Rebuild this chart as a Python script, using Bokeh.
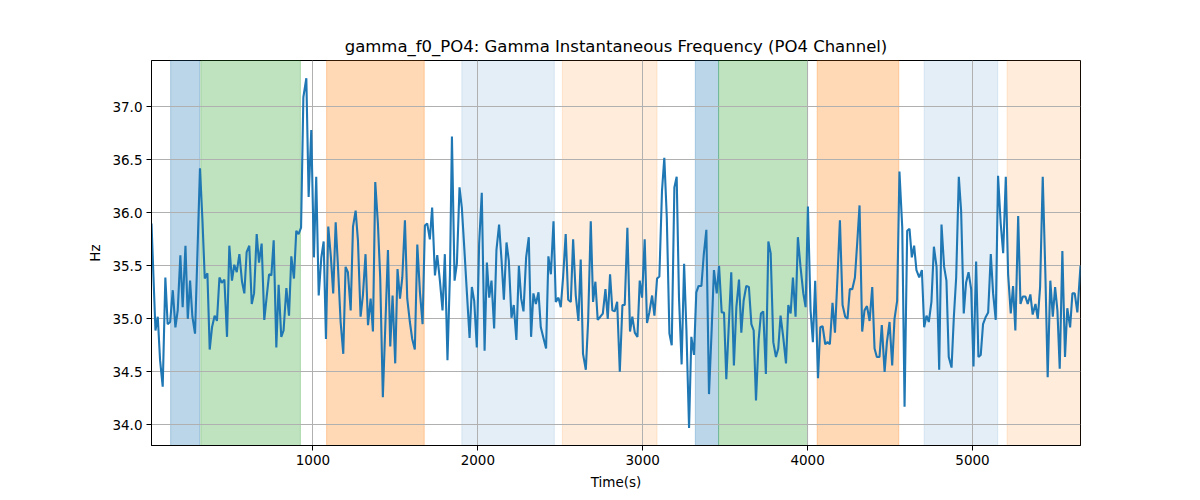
from bokeh.plotting import figure
from bokeh.models import Range1d, FixedTicker, PrintfTickFormatter, BoxAnnotation
from bokeh.embed import file_html
from bokeh.resources import INLINE

# instantaneous gamma frequency of channel PO4
time_s = [
    21, 45, 59, 73, 89, 105, 119, 134, 150, 166, 180, 196, 210, 227, 241, 255, 269, 285,
    315, 330, 344, 360, 374, 388, 404, 418, 433, 447, 463, 479, 493, 509, 523, 538, 554,
    570, 584, 598, 614, 629, 643, 659, 673, 689, 705,
    719, 734, 748, 762, 778, 792, 808, 822, 839, 855, 869, 885, 899, 913, 928, 942, 960,
    974, 990, 1006, 1020, 1035, 1051, 1065, 1079, 1093, 1109, 1123, 1138, 1152, 1168, 1184,
    1198, 1212, 1229, 1243, 1259, 1273, 1289, 1303, 1319, 1334, 1350, 1364, 1378, 1394, 1408,
    1424, 1455, 1469, 1483, 1499, 1513, 1528, 1542, 1558, 1572, 1588, 1602, 1618, 1633, 1649,
    1665, 1679, 1693, 1709, 1723, 1740, 1754, 1770, 1786, 1800, 1816, 1831, 1843, 1859, 1873,
    1889, 1903, 1919, 1934, 1950, 1964, 1978, 1994, 2008, 2024, 2041, 2055, 2069, 2083, 2099, 2113,
    2129, 2144, 2158, 2174, 2188, 2204, 2218, 2234, 2249, 2263, 2277, 2293, 2309, 2323, 2337,
    2352, 2368, 2382, 2398, 2414, 2428, 2443, 2459, 2473, 2489, 2503, 2517, 2533, 2548, 2564,
    2578, 2594, 2610, 2624, 2638, 2655, 2669, 2685, 2699, 2713, 2727, 2743, 2758, 2774, 2788,
    2802, 2816,
    2830, 2845, 2861, 2877, 2891, 2907, 2923, 2937, 2952, 2968, 2982, 2996, 3012, 3026, 3040,
    3057, 3071, 3087, 3101, 3117, 3131, 3146, 3162, 3176, 3192, 3206, 3220, 3236, 3251, 3265,
    3281, 3295, 3311, 3325, 3339, 3356, 3370, 3386, 3402, 3418, 3432, 3449, 3463, 3479, 3493, 3507,
    3537, 3553, 3568, 3584, 3598, 3612, 3628, 3644, 3659, 3673, 3687, 3703, 3717, 3731, 3747,
    3762, 3776, 3792, 3808, 3822, 3836, 3852, 3869, 3883, 3897, 3911, 3927, 3941, 3957, 3974,
    3988, 4002, 4018, 4032, 4046, 4063, 4077, 4091, 4107, 4121, 4135, 4151, 4166, 4180, 4196,
    4212, 4228,
    4242, 4256, 4271, 4287, 4301, 4315, 4331, 4345, 4360, 4376, 4392, 4406, 4420, 4436, 4450,
    4467, 4481, 4497, 4513, 4527, 4543, 4557, 4574, 4588, 4604, 4618, 4632, 4646, 4660, 4677,
    4693, 4707, 4721, 4735, 4751, 4766, 4782, 4798, 4812, 4828, 4842, 4856, 4873, 4887, 4901,
    4917, 4931,
    4947, 4961, 4976, 4992, 5006, 5022, 5036, 5050, 5064, 5081, 5095, 5111, 5125, 5141, 5155,
    5171, 5186, 5202, 5216, 5232, 5246, 5260, 5277, 5291, 5305, 5321, 5335, 5351, 5365, 5382,
    5396, 5410, 5426, 5442, 5456, 5472, 5487, 5501, 5515, 5529, 5545, 5561, 5575, 5592, 5606,
    5620, 5636, 5655,
]
freq_hz = [
    35.90, 34.89, 35.02, 34.61, 34.36, 35.39, 34.95, 34.97, 35.27, 34.92, 35.08, 35.60, 35.11,
    35.69, 35.00, 35.36, 35.02, 34.86,
    36.42, 35.93, 35.38, 35.43, 34.71, 34.92, 35.03, 34.98, 35.39, 35.34, 35.37, 34.83, 35.69,
    35.36, 35.51, 35.44, 35.61, 35.35, 35.24, 35.63, 35.69, 35.14, 35.24, 35.80, 35.53, 35.71, 34.99,
    35.20, 35.42, 35.41, 35.74, 34.73, 35.32, 34.83, 34.89, 35.29, 35.03, 35.59, 35.38, 35.83,
    35.80, 35.86, 37.09, 37.27, 36.15, 36.78, 35.58, 36.34, 35.22, 35.58, 35.73, 34.81, 35.87,
    35.58, 35.24, 35.91, 35.49, 34.97, 34.67, 35.49, 35.44, 35.08, 35.87, 36.02, 35.74, 35.02,
    35.22, 35.61, 34.94, 35.19, 34.88, 36.29, 35.90, 35.39,
    34.26, 35.65, 34.74, 35.22, 34.58, 35.47, 35.19, 35.39, 35.93, 35.19, 34.97, 34.81, 34.71,
    35.70, 35.25, 34.95, 35.88, 35.90, 35.75, 36.05, 35.41, 35.60, 35.36, 35.08, 35.61, 34.61,
    35.42, 36.72, 35.36, 35.52, 36.24, 36.05, 35.64, 35.24, 34.82, 35.30, 35.17, 34.73, 35.71,
    36.19, 34.70, 35.53, 35.20, 35.36, 34.91, 35.65,
    35.89, 35.55, 35.18, 35.72, 35.55, 35.01, 35.13, 34.80, 35.50, 35.19, 35.07, 35.58, 35.77,
    34.83, 35.24, 35.14, 35.25, 34.92, 34.82, 34.72, 35.59, 35.42, 35.92, 35.16, 35.20, 35.11,
    35.39, 35.80, 35.18, 35.16, 35.75, 35.22, 34.98, 35.56, 34.67, 34.52, 34.98, 35.92, 35.16,
    35.35, 34.99, 35.02, 35.05, 35.28, 35.00, 35.42, 35.08,
    35.07, 35.16, 34.50, 35.13, 35.13, 35.86, 34.88, 35.02, 34.87, 34.83, 35.36, 35.20, 35.75,
    34.96, 35.06, 35.22, 35.03, 35.38, 35.40, 36.21, 36.52, 35.96, 34.86, 34.75, 36.24, 36.34,
    35.20, 34.57, 35.52, 34.90, 33.97, 34.83, 34.66, 35.25, 35.31, 35.31, 35.60, 35.84, 34.29,
    34.89, 35.46, 35.24, 35.50, 35.06, 35.06, 34.43,
    35.44, 34.56, 35.11, 35.37, 34.87, 35.17, 35.31, 35.30, 34.95, 34.89, 34.23, 34.80, 35.05,
    35.07, 34.48, 35.73, 35.62, 34.78, 34.64, 34.72, 35.03, 34.83, 34.58, 35.13, 35.05, 35.39,
    35.02, 35.77, 35.49, 35.24, 35.11, 36.06, 35.08, 34.78, 35.36, 34.44, 34.92, 34.93, 34.76,
    34.78, 34.76, 35.15, 34.87, 35.35, 35.93, 35.13, 35.02,
    35.00, 35.28, 35.28, 35.39, 35.72, 36.07, 34.88, 35.08, 35.12, 34.98, 35.30, 34.72, 34.64,
    34.64, 34.94, 34.50, 34.78, 34.97, 34.56, 35.00, 35.17, 36.39, 35.86, 34.17, 35.83, 35.85,
    35.58, 35.69, 35.46, 35.39, 35.46, 34.92, 35.03, 34.97, 35.16, 35.68, 35.49, 34.52, 35.89,
    35.49, 35.36, 34.64, 34.54, 35.02, 35.39, 36.34, 36.02,
    35.05, 35.34, 35.44, 35.28, 34.55, 35.54, 34.64, 34.66, 34.95, 35.02, 35.06, 35.61, 35.24,
    34.99, 36.35, 35.90, 35.62, 36.34, 35.42, 35.05, 35.31, 34.89, 35.97, 35.14, 35.21, 35.21,
    35.14, 35.23, 35.04, 35.14, 35.00, 35.30, 36.34, 35.42, 34.45, 35.36, 35.02, 35.30, 35.08,
    34.53, 35.64, 34.64, 35.10, 34.92, 35.24, 35.24, 35.06, 35.50,
]

# shaded stages: start, end, colour, alpha
span_start = [137, 320, 1083, 1903, 2513, 3319, 3460, 4058, 4707, 5210]
span_end = [313, 924, 1675, 2464, 3087, 3460, 4000, 4553, 5153, 5700]
span_color = ["#1f77b4", "#2ca02c", "#ff7f0e", "#1f77b4", "#ff7f0e",
              "#1f77b4", "#2ca02c", "#ff7f0e", "#1f77b4", "#ff7f0e"]
span_alpha = [0.3, 0.3, 0.3, 0.12, 0.15, 0.3, 0.3, 0.3, 0.12, 0.15]

y_ticks = [34.0, 34.5, 35.0, 35.5, 36.0, 36.5, 37.0]
x_ticks = [1000, 2000, 3000, 4000, 5000]

FONT = "DejaVu Sans"

p = figure(frame_width=929, frame_height=385,
           x_range=Range1d(21, 5655), y_range=Range1d(33.805, 37.437),
           title="gamma_f0_PO4: Gamma Instantaneous Frequency (PO4 Channel)",
           x_axis_label="Time(s)", y_axis_label="Hz",
           output_backend="svg", toolbar_location=None,
           min_border_left=151, min_border_right=104, min_border_top=60, min_border_bottom=40)

p.title.align = "center"
p.title.text_font = FONT
p.title.text_font_size = "16.5px"
p.title.text_font_style = "normal"
p.title.text_color = "black"

for s, e, c, a in zip(span_start, span_end, span_color, span_alpha):
    box = BoxAnnotation(left=s, right=e, fill_color=c, fill_alpha=a,
                        line_color=c, line_alpha=a, line_width=1, level="image")
    p.add_layout(box)

p.line(time_s, freq_hz, line_color="#1f77b4", line_width=2.1)

p.xaxis.ticker = FixedTicker(ticks=x_ticks)
p.yaxis.ticker = FixedTicker(ticks=y_ticks)
p.yaxis.formatter = PrintfTickFormatter(format="%.1f")

for ax in [p.xaxis[0], p.yaxis[0]]:
    ax.axis_label_text_font = FONT
    ax.axis_label_text_font_size = "13.5px"
    ax.axis_label_text_font_style = "normal"
    ax.axis_label_text_color = "black"
    ax.major_label_text_font = FONT
    ax.major_label_text_font_size = "13.5px"
    ax.major_label_text_color = "black"
    ax.axis_line_color = "black"
    ax.major_tick_line_color = "black"
    ax.major_tick_out = 5
    ax.major_tick_in = 0
    ax.minor_tick_line_color = None
    ax.major_label_standoff = 4
    ax.axis_label_standoff = 6

p.grid.grid_line_color = "#b0b0b0"
p.grid.grid_line_width = 1
p.outline_line_color = "black"
p.outline_line_alpha = 1
p.outline_line_width = 1

open("out.html", "w").write(file_html(p, INLINE))
